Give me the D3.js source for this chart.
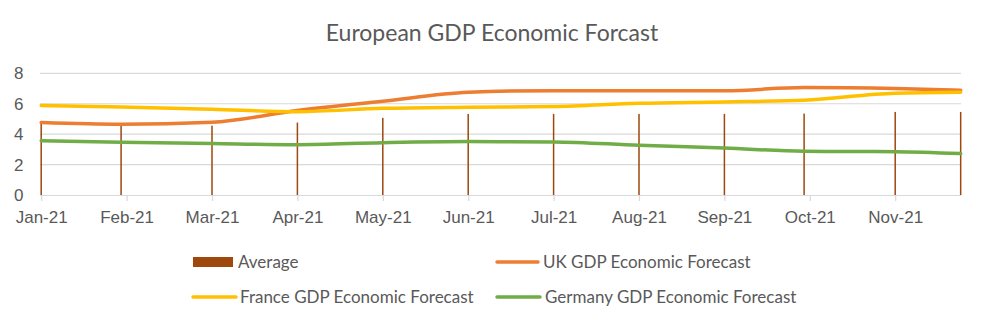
<!DOCTYPE html>
<html>
<head>
<meta charset="utf-8">
<script src="https://cdn.jsdelivr.net/npm/d3@7"></script>
<style>
  html, body { margin: 0; padding: 0; background: #fff; }
  svg { display: block; font-family: Lato, "Open Sans", sans-serif; }
</style>
</head>
<body>
<svg id="chart" width="985" height="324"></svg>
<script>
// Observation dates and forecast values (GDP growth, %)
const dates = ["2021-01-01","2021-01-30","2021-03-01","2021-04-01","2021-05-01","2021-06-01",
               "2021-07-01","2021-08-01","2021-09-01","2021-09-29","2021-11-01","2021-11-24"];
const ukForecast      = [4.76, 4.65, 4.78, 5.55, 6.16, 6.75, 6.86, 6.86, 6.86, 7.06, 7.00, 6.89];
const franceForecast  = [5.88, 5.79, 5.64, 5.48, 5.70, 5.77, 5.81, 6.03, 6.12, 6.23, 6.69, 6.75];
const germanyForecast = [3.57, 3.47, 3.38, 3.31, 3.44, 3.51, 3.49, 3.27, 3.09, 2.87, 2.85, 2.72];
const averageValues   = [4.72, 4.55, 4.56, 4.76, 5.07, 5.33, 5.33, 5.33, 5.33, 5.35, 5.46, 5.46];
const yTicks = [0, 2, 4, 6, 8];
const seriesNames = ["Average", "UK GDP Economic Forecast", "France GDP Economic Forecast", "Germany GDP Economic Forecast"];
const chartTitle = "European GDP Economic Forcast";

const parse = d3.timeParse("%Y-%m-%d");
const when = dates.map(parse);

const svg = d3.select("#chart");
const textColor = "#595959";
const gridColor = "#d9d9d9";
const colors = { avg: "#9e480e", uk: "#ed7d31", fr: "#ffc000", de: "#70ad47" };

// Month starts laid out at equal spacing (monthly date axis)
const monthStarts = d3.range(0, 12).map(m => new Date(2021, m, 1));
const step = 85.4, x0 = 41.2;
const x = d3.scaleTime()
  .domain(monthStarts)
  .range(monthStarts.map((d, i) => x0 + i * step));
const y = d3.scaleLinear().domain([0, 8]).range([195, 73.3]);
const plotLeft = 40, plotRight = 961;

// Title
svg.append("text")
  .attr("x", 492).attr("y", 41)
  .attr("text-anchor", "middle")
  .attr("fill", textColor)
  .style("font-size", "23px")
  .text(chartTitle);

// Horizontal gridlines
svg.append("g").selectAll("line")
  .data(yTicks.filter(v => v > 0))
  .join("line")
  .attr("x1", plotLeft).attr("x2", plotRight)
  .attr("y1", d => y(d)).attr("y2", d => y(d))
  .attr("stroke", gridColor).attr("stroke-width", 1.2);

// Y axis labels
const yAxis = d3.axisLeft(y).tickValues(yTicks).tickSize(0).tickPadding(0);
svg.append("g")
  .attr("transform", "translate(23.5,0)")
  .call(yAxis)
  .call(g => g.select(".domain").remove())
  .call(g => g.selectAll("text").attr("fill", textColor).style("font-size", "17px").attr("font-family", null));

// X axis
const xAxis = d3.axisBottom(x)
  .tickValues(monthStarts.slice(0, 11))
  .tickFormat(d3.timeFormat("%b-%y"))
  .tickSize(6).tickSizeOuter(0).tickPadding(10);
svg.append("g")
  .attr("transform", `translate(0,${y(0)})`)
  .call(xAxis)
  .call(g => g.select(".domain").attr("d", `M${plotLeft},0.5H${plotRight}`).attr("stroke", gridColor).attr("stroke-width", 1.2))
  .call(g => g.selectAll(".tick line").attr("stroke", gridColor).attr("stroke-width", 1.2))
  .call(g => g.selectAll("text").attr("fill", textColor).style("font-size", "17px").attr("font-family", null));

// Average bars (thin columns)
svg.append("g").selectAll("rect")
  .data(averageValues)
  .join("rect")
  .attr("x", (d, i) => x(when[i]) - 0.75)
  .attr("width", 1.5)
  .attr("y", d => y(d))
  .attr("height", d => y(0) - y(d))
  .attr("fill", colors.avg);

// Forecast lines
const line = d3.line()
  .x((d, i) => x(when[i]))
  .y(d => y(d))
  .curve(d3.curveMonotoneX);

[[ukForecast, colors.uk], [franceForecast, colors.fr], [germanyForecast, colors.de]].forEach(([vals, c]) => {
  svg.append("path")
    .datum(vals)
    .attr("d", line)
    .attr("fill", "none")
    .attr("stroke", c)
    .attr("stroke-width", 3.5)
    .attr("stroke-linecap", "round")
    .attr("stroke-linejoin", "round");
});

// Legend
const legend = svg.append("g").style("font-size", "17px").attr("fill", textColor);
legend.append("rect").attr("x", 193).attr("y", 257).attr("width", 40).attr("height", 10).attr("fill", colors.avg);
legend.append("text").attr("x", 238).attr("y", 268).text(seriesNames[0]);

const lineItems = [
  { x: 497, y: 262, len: 41, c: colors.uk, tx: 543, name: seriesNames[1] },
  { x: 193, y: 297, len: 43, c: colors.fr, tx: 240, name: seriesNames[2] },
  { x: 497, y: 297, len: 43, c: colors.de, tx: 545, name: seriesNames[3] }
];
lineItems.forEach(it => {
  legend.append("line")
    .attr("x1", it.x).attr("x2", it.x + it.len)
    .attr("y1", it.y).attr("y2", it.y)
    .attr("stroke", it.c).attr("stroke-width", 3.5).attr("stroke-linecap", "round");
  legend.append("text").attr("x", it.tx).attr("y", it.y + 6).text(it.name);
});
</script>
</body>
</html>
